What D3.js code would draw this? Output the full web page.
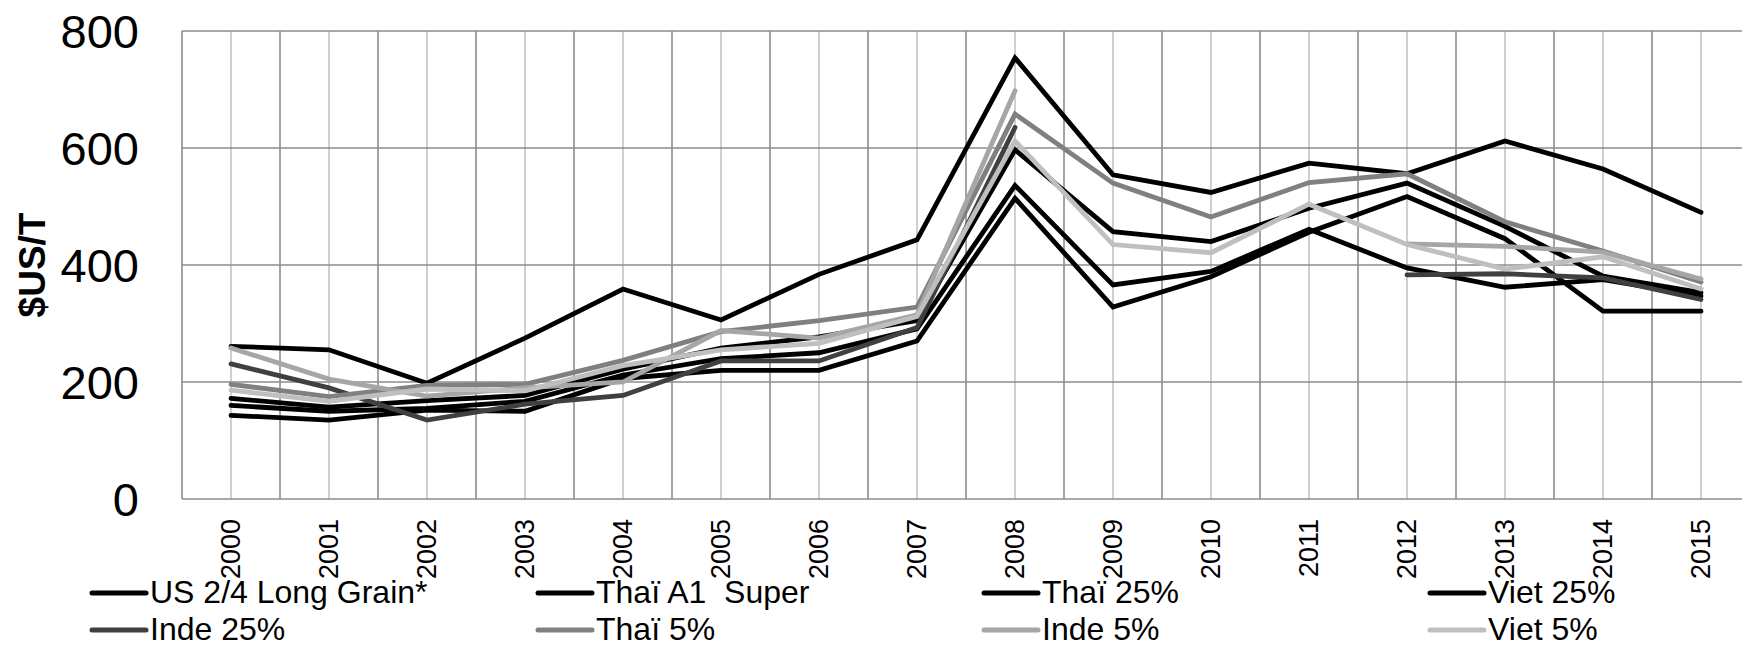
<!DOCTYPE html>
<html>
<head>
<meta charset="utf-8">
<script src="https://cdn.jsdelivr.net/npm/d3@7/dist/d3.min.js"></script>
<style>
  html, body { margin: 0; padding: 0; background: #fff; }
  svg { display: block; font-family: "Liberation Sans", Arial, sans-serif; }
</style>
</head>
<body>
<svg id="chart" width="1742" height="647"></svg>
<script>
const years = ["2000","2001","2002","2003","2004","2005","2006","2007","2008","2009","2010","2011","2012","2013","2014","2015"];
const yTicks = [0, 200, 400, 600, 800];
const yTitle = "$US/T";

const seriesNames = ["US 2/4 Long Grain*", "Thaï A1  Super", "Thaï 25%", "Viet 25%", "Inde 25%", "Thaï 5%", "Inde 5%", "Viet 5%"];
const seriesColors = ["#000000", "#000000", "#000000", "#000000", "#404040", "#808080", "#a6a6a6", "#bfbfbf"];

const usLongGrain = [261, 255, 198, 275, 359, 306, 384, 443, 754, 554, 524, 574, 556, 612, 564, 490];
const thaiA1Super = [143, 135, 152, 150, 206, 220, 220, 270, 514, 328, 380, 456, 517, 445, 321, 321];
const thai25 =      [172, 157, 168, 177, 222, 258, 277, 305, 597, 457, 440, 497, 540, 466, 381, 353];
const viet25 =      [160, 150, 155, 167, 212, 240, 250, 291, 536, 366, 389, 461, 395, 362, 375, 347];
const inde25 =      [231, 190, 135, 162, 177, 236, 236, 293, 635, null, null, null, 383, 385, 378, 341];
const thai5 =       [196, 175, 194, 196, 237, 286, 305, 328, 658, 540, 482, 541, 556, 474, 424, 371];
const inde5 =       [258, 205, 176, 190, 200, 288, 275, 315, 698, null, null, null, 436, 432, 422, 376];
const viet5 =       [186, 167, 188, 185, 228, 255, 266, 312, 612, 435, 421, 504, 435, 393, 414, 359];

const seriesValues = [usLongGrain, thaiA1Super, thai25, viet25, inde25, thai5, inde5, viet5];

(function () {
const svg = d3.select("#chart");
const plotLeft = 182, plotTop = 31, plotBottom = 499, band = 98;

const x = d3.scaleBand().domain(years).range([plotLeft, plotLeft + band * years.length]).paddingInner(0).paddingOuter(0);
const y = d3.scaleLinear().domain([0, 800]).range([plotBottom, plotTop]);
const cx = d => x(d) + x.bandwidth() / 2;

const grid = svg.append("g");
grid.selectAll("line.vc").data(years).join("line")
  .attr("class", "vc")
  .attr("x1", d => cx(d)).attr("x2", d => cx(d))
  .attr("y1", y(800)).attr("y2", y(0))
  .attr("stroke", "#c4c4c4").attr("stroke-width", 1.6);
grid.selectAll("line.vb").data(years).join("line")
  .attr("class", "vb")
  .attr("x1", d => x(d)).attr("x2", d => x(d))
  .attr("y1", y(800)).attr("y2", y(0))
  .attr("stroke", "#8c8c8c").attr("stroke-width", 1.6);
grid.selectAll("line.h").data(yTicks).join("line")
  .attr("class", "h")
  .attr("x1", plotLeft).attr("x2", 1742)
  .attr("y1", d => y(d)).attr("y2", d => y(d))
  .attr("stroke", "#8c8c8c").attr("stroke-width", 1.6);

svg.append("g").selectAll("text").data(yTicks).join("text")
  .attr("x", 139).attr("y", d => y(d))
  .attr("text-anchor", "end").attr("dominant-baseline", "central")
  .attr("font-size", 47).attr("fill", "#000")
  .text(d => d);

svg.append("text")
  .attr("transform", "translate(32,265) rotate(-90)")
  .attr("text-anchor", "middle").attr("dominant-baseline", "central")
  .attr("font-size", 37).attr("font-weight", "bold").attr("fill", "#000")
  .text(yTitle);

svg.append("g").selectAll("text").data(years).join("text")
  .attr("transform", d => `translate(${cx(d)},519) rotate(-90)`)
  .attr("text-anchor", "end").attr("dominant-baseline", "central")
  .attr("font-size", 27).attr("fill", "#000")
  .text(d => d);

const line = d3.line()
  .defined(d => d.v != null)
  .x(d => cx(d.year))
  .y(d => y(d.v));

svg.append("g").selectAll("path").data(seriesValues.map((vals, i) => ({
    name: seriesNames[i], color: seriesColors[i],
    pts: years.map((yr, j) => ({ year: yr, v: vals[j] }))
  }))).join("path")
  .attr("d", d => line(d.pts))
  .attr("fill", "none")
  .attr("stroke", d => d.color)
  .attr("stroke-width", 4.8)
  .attr("stroke-linejoin", "miter")
  .attr("stroke-linecap", "round");

const legCols = [92, 538, 984, 1430];
const legRows = [603, 640];
const leg = svg.append("g");
seriesNames.forEach((name, i) => {
  const col = i % 4, row = Math.floor(i / 4);
  const lx = legCols[col], ly = legRows[row];
  leg.append("line")
    .attr("x1", lx).attr("x2", lx + 54)
    .attr("y1", ly - 10).attr("y2", ly - 10)
    .attr("stroke", seriesColors[i]).attr("stroke-width", 5)
    .attr("stroke-linecap", "round");
  leg.append("text")
    .attr("x", lx + 58).attr("y", ly)
    .attr("font-size", 32).attr("fill", "#000")
    .style("white-space", "pre")
    .text(name);
});
})();
</script>
</body>
</html>
